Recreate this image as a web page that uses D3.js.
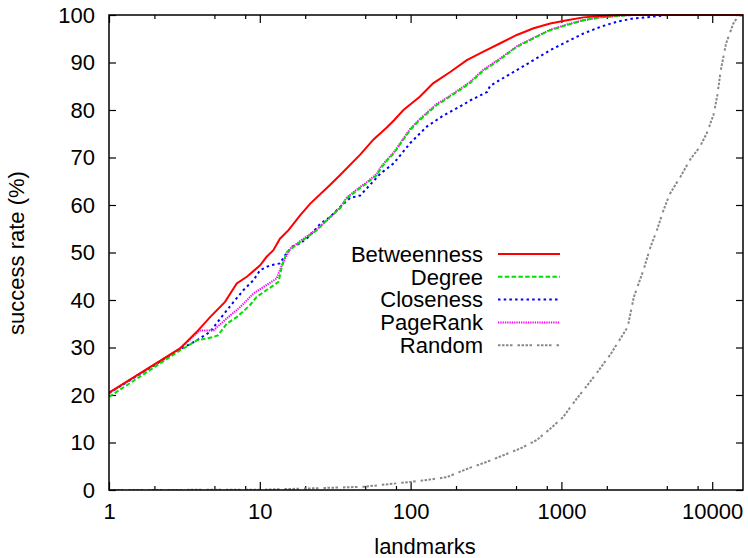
<!DOCTYPE html>
<html lang="en">
<head>
<meta charset="UTF-8">
<script src="https://cdn.jsdelivr.net/npm/d3@7"></script>
<style>
  body { margin: 0; background: #fff; }
  text { font-family: "Liberation Sans", Arial, Helvetica, sans-serif; }
</style>
</head>
<body>
<div id="fig"></div>
<script>
const width = 748, height = 558;
const margin = {top: 15, right: 5, bottom: 68, left: 109};

// landmarks (x) and success rate % (y)
const betweennessX = [1, 2.96, 3.82, 4.68, 5.88, 7.03, 8.2, 10.05, 11.1, 12.3, 13.6, 15.5, 18.5, 21.6, 29.2, 34.1, 46.3, 56.8, 69.5, 77.4, 89.6, 115, 141, 183, 236, 304, 390, 506, 654, 843, 1090, 1400, 1810, 2500, 16000];
const betweennessY = [20.5, 29.8, 33.3, 36.4, 39.6, 43.5, 44.9, 47.3, 49.1, 50.5, 52.9, 54.7, 57.8, 60.3, 64.2, 66.3, 70.6, 73.8, 76.3, 77.8, 80.0, 82.8, 85.6, 88.0, 90.5, 92.3, 94.0, 95.8, 97.2, 98.2, 98.9, 99.5, 99.8, 100, 100];

const degreeX = [1, 2.96, 3.82, 4.92, 5.3, 6.03, 7.03, 8.6, 9.5, 11.1, 13.3, 14.0, 15.1, 18.5, 23.9, 29.2, 34.1, 37.8, 46.3, 51.2, 59.7, 63, 69.5, 77.4, 99.2, 115, 148, 165, 212, 248, 304, 390, 506, 654, 843, 1090, 1400, 1810, 2340, 3000, 16000];
const degreeY = [19.6, 29.4, 31.5, 32.2, 32.6, 35.0, 36.4, 38.9, 40.6, 42.1, 43.8, 47.0, 50.1, 52.2, 54.7, 57.5, 59.3, 61.4, 63.6, 64.6, 66.3, 67.6, 69.3, 70.9, 75.8, 77.9, 81.0, 81.9, 84.2, 85.7, 88.3, 90.6, 93.3, 95.1, 96.8, 97.9, 98.9, 99.5, 99.8, 100, 100];

const closenessX = [1, 2.96, 3.82, 4.68, 5.7, 6.7, 7.8, 9.1, 10.05, 11.7, 13.6, 14.7, 16.3, 18.5, 21.1, 25.1, 29.2, 34.1, 39.8, 46.3, 63, 77.4, 99.2, 128, 166, 212, 248, 322, 337, 390, 506, 654, 843, 1090, 1400, 1810, 2340, 3020, 3900, 5000, 16000];
const closenessY = [20.4, 29.6, 31.5, 33.3, 36.8, 39.6, 42.1, 44.2, 46.3, 47.3, 47.7, 49.4, 51.2, 51.9, 53.3, 56.0, 57.5, 59.6, 61.5, 62.0, 66.6, 68.8, 73.0, 76.5, 78.9, 80.7, 82.0, 83.8, 85.1, 86.3, 88.4, 90.5, 92.6, 94.4, 96.1, 97.5, 98.6, 99.3, 99.6, 100, 100];

const pagerankX = [1, 2.96, 4.0, 4.92, 6.03, 7.4, 9.1, 12.9, 14.0, 15.9, 18.5, 23.9, 29.2, 34.1, 37.8, 46.3, 51.2, 59.7, 63, 69.5, 77.4, 99.2, 115, 148, 165, 212, 248, 304, 390, 506, 654, 843, 1090, 1400, 1810, 2340, 3000, 16000];
const pagerankY = [20.4, 29.8, 33.6, 33.6, 36.1, 38.5, 41.4, 44.5, 47.3, 50.8, 52.4, 54.9, 57.3, 59.5, 61.6, 63.8, 64.8, 66.6, 67.9, 69.5, 71.1, 76.0, 78.1, 81.2, 82.1, 84.4, 85.9, 88.5, 90.8, 93.4, 95.2, 96.9, 98.0, 98.9, 99.5, 99.8, 100, 100];

const randomX = [1, 10, 20, 50, 65, 100, 134, 174, 203, 249, 319, 411, 531, 685, 843, 1030, 1200, 1640, 2130, 2750, 3020, 3500, 3900, 4300, 4750, 5250, 6140, 7150, 8300, 9200, 10200, 10800, 11400, 12350, 13800, 14900, 16000];
const randomY = [0, 0.05, 0.3, 0.7, 1.1, 1.7, 2.2, 2.7, 3.6, 4.7, 5.9, 7.3, 8.7, 10.5, 12.9, 15.4, 18.3, 23.8, 28.7, 34.3, 40.6, 46.3, 51.2, 54.7, 58.9, 62.4, 65.9, 69.6, 72.3, 75.1, 79.0, 83.0, 88.4, 94.0, 98.2, 99.8, 100];

const seriesNames = ["Betweenness", "Degree", "Closeness", "PageRank", "Random"];
const seriesColors = ["#ff0000", "#00e000", "#0000ff", "#ff00ff", "#888888"];
const seriesDash = ["none", "4.5,2.3", "2.5,3.2", "1.3,1", "2.5,1.5,2.5,1.5,2.5,1.5,2.5,5"];
const seriesData = [
  [betweennessX, betweennessY],
  [degreeX, degreeY],
  [closenessX, closenessY],
  [pagerankX, pagerankY],
  [randomX, randomY]
];

const xMajor = [1, 10, 100, 1000, 10000];
const xMinor = [2, 5, 8, 20, 50, 80, 200, 500, 800, 2000, 5000, 8000];
const yTicks = [0, 10, 20, 30, 40, 50, 60, 70, 80, 90, 100];

const svg = d3.select("#fig").append("svg")
    .attr("width", width)
    .attr("height", height);

const x = d3.scaleLog()
    .domain([1, 16000])
    .range([margin.left, width - margin.right]);
const y = d3.scaleLinear()
    .domain([0, 100])
    .range([height - margin.bottom, margin.top]);

const fontSize = 22;

// axes, gnuplot style: ticks inside, mirrored
svg.append("g")
    .attr("transform", `translate(0,${y(0)})`)
    .call(d3.axisBottom(x).tickValues(xMajor).tickFormat(d3.format("d")).tickSize(-8).tickSizeOuter(0).tickPadding(13));
svg.append("g")
    .attr("transform", `translate(0,${y(0)})`)
    .call(d3.axisBottom(x).tickValues(xMinor).tickFormat("").tickSize(-4).tickSizeOuter(0));
svg.append("g")
    .attr("transform", `translate(0,${y(100)})`)
    .call(d3.axisTop(x).tickValues(xMajor).tickFormat("").tickSize(-8).tickSizeOuter(0));
svg.append("g")
    .attr("transform", `translate(0,${y(100)})`)
    .call(d3.axisTop(x).tickValues(xMinor).tickFormat("").tickSize(-4).tickSizeOuter(0));
svg.append("g")
    .attr("transform", `translate(${x(1)},0)`)
    .call(d3.axisLeft(y).tickValues(yTicks).tickSize(-7).tickSizeOuter(0).tickPadding(14));
svg.append("g")
    .attr("transform", `translate(${x(16000)},0)`)
    .call(d3.axisRight(y).tickValues(yTicks).tickFormat("").tickSize(-7).tickSizeOuter(0));

svg.selectAll(".domain").remove();
svg.selectAll(".tick line").attr("stroke", "#000").attr("stroke-width", 1.2);
svg.selectAll(".tick text")
    .attr("font-size", fontSize)
    .attr("font-family", "'Liberation Sans', Arial, sans-serif")
    .attr("fill", "#000");

// clip for curves
svg.append("clipPath").attr("id", "plotclip")
  .append("rect")
    .attr("x", x(1)).attr("y", y(100) - 2)
    .attr("width", x(16000) - x(1))
    .attr("height", y(0) - y(100) + 2);

const line = d3.line()
    .x(d => x(d[0]))
    .y(d => y(d[1]));

const curves = svg.append("g").attr("clip-path", "url(#plotclip)");
// Random underneath, Betweenness on top
[4, 2, 3, 1, 0].forEach(i => {
  const pts = seriesData[i][0].map((v, j) => [v, seriesData[i][1][j]]);
  curves.append("path")
      .datum(pts)
      .attr("d", line)
      .attr("fill", "none")
      .attr("stroke", seriesColors[i])
      .attr("stroke-width", 2)
      .attr("stroke-dasharray", seriesDash[i]);
});

// frame
svg.append("rect")
    .attr("x", x(1)).attr("y", y(100))
    .attr("width", x(16000) - x(1))
    .attr("height", y(0) - y(100))
    .attr("fill", "none")
    .attr("stroke", "#000")
    .attr("stroke-width", 1.5);

// legend
const legend = svg.append("g");
seriesNames.forEach((name, i) => {
  const ly = 254 + i * 22.8;
  legend.append("text")
      .attr("x", 483)
      .attr("y", ly)
      .attr("dy", "0.35em")
      .attr("text-anchor", "end")
      .attr("font-size", fontSize)
      .text(name);
  legend.append("line")
      .attr("x1", 498).attr("x2", 560)
      .attr("y1", ly).attr("y2", ly)
      .attr("stroke", seriesColors[i])
      .attr("stroke-width", 2)
      .attr("stroke-dasharray", seriesDash[i]);
});

// axis titles
svg.append("text")
    .attr("x", (x(1) + x(16000)) / 2 - 1)
    .attr("y", 546)
    .attr("dy", "0.35em")
    .attr("text-anchor", "middle")
    .attr("font-size", fontSize)
    .text("landmarks");

svg.append("text")
    .attr("transform", "translate(16,253) rotate(-90)")
    .attr("dy", "0.35em")
    .attr("text-anchor", "middle")
    .attr("font-size", fontSize)
    .text("success rate (%)");
</script>
</body>
</html>
